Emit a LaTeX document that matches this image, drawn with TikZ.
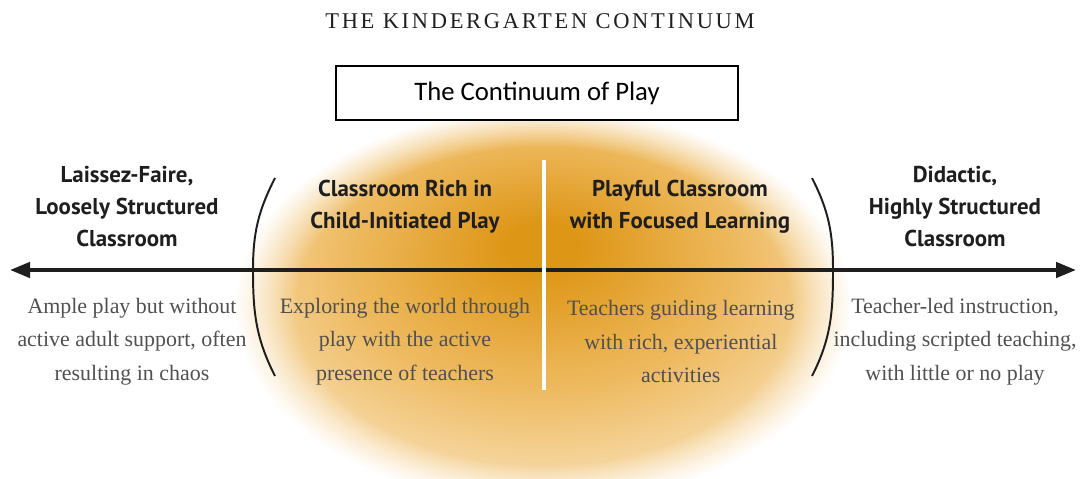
\documentclass[tikz,border=0pt]{standalone}
\usepackage{fontspec}
\usepackage{tikz}
\usetikzlibrary{arrows.meta}
\usetikzlibrary{fadings}
\usetikzlibrary{positioning}
\usepackage{xcolor}

\setmainfont{Liberation Serif}
\newfontfamily\boxfont{Carlito}
\newfontfamily\headfont{PT Sans}

\definecolor{gcore}{RGB}{222,150,22}
\definecolor{gmid}{RGB}{238,186,96}
\definecolor{gedge}{RGB}{248,224,182}
\definecolor{bodygray}{RGB}{80,80,80}
\definecolor{headdark}{RGB}{30,30,30}

\pgfdeclareradialshading{glow}{\pgfpoint{0bp}{8bp}}{color(0bp)=(gcore); color(3bp)=(gcore); color(16bp)=(gmid); color(28bp)=(gedge); color(50bp)=(gedge)}

\begin{document}
\begin{tikzpicture}[
    heading/.style={align=center, text=headdark, font=\headfont\bfseries\fontsize{16.3}{22.7}\selectfont},
    body/.style={align=center, text=bodygray, font=\fontsize{15.6}{23.7}\selectfont},
    paren/.style={line width=1.4pt, headdark}
    ]

\useasboundingbox (0,0) rectangle (27,11.95);

\shade[shading=glow, path fading=circle with fuzzy edge 20 percent] (13.575,4.3) ellipse [x radius=7.7, y radius=4.95];

\node (title) at (13.5,11.42) {\addfontfeature{LetterSpace=12}\fontsize{16}{18}\selectfont\color{black!88}THE KINDERGARTEN CONTINUUM};

\node[draw, line width=1.4pt, fill=white, minimum width=10.05cm, minimum height=1.35cm] (cplay) at (13.425,9.625) {\boxfont\fontsize{19}{21}\selectfont The Continuum of Play};

% the axis
\coordinate (westend) at (0.25,5.2);
\coordinate (eastend) at (26.9,5.2);
\draw[line width=2.8pt, headdark, {Triangle[length=0.5cm,width=0.38cm]}-{Triangle[length=0.5cm,width=0.38cm]}] (westend)--(eastend);

% brackets round the middle
\coordinate (ltop) at (6.875,7.5);
\coordinate (lmid) at (6.325,5.2);
\coordinate (lbot) at (6.875,2.55);
\coordinate (rtop) at (20.3,7.5);
\coordinate (rmid) at (20.825,5.2);
\coordinate (rbot) at (20.3,2.55);
\draw[paren] (ltop) to[out=243,in=90] (lmid) to[out=270,in=117] (lbot);
\draw[paren] (rtop) to[out=297,in=90] (rmid) to[out=270,in=63] (rbot);

\coordinate (splittop) at (13.6,7.95);
\coordinate (splitbot) at (13.6,2.2);
\draw[white, line width=2.2pt] (splittop)--(splitbot);

\node[heading] (lhead) at (3.175,6.78) {Laissez-Faire,\\Loosely Structured\\Classroom};
\node[heading] (clhead) at (10.125,6.78) {Classroom Rich in\\Child-Initiated Play};
\node[heading] (crhead) at (17.0,6.78) {Playful Classroom\\with Focused Learning};
\node[heading] (rhead) at (23.875,6.78) {Didactic,\\Highly Structured\\Classroom};

\node[body] (ltext) at (3.3,3.41) {Ample play but without\\active adult support, often\\resulting in chaos};
\node[body] (cltext) at (10.125,3.41) {Exploring the world through\\play with the active\\presence of teachers};
\node[body] (crtext) at (17.02,3.41) {Teachers guiding learning\\with rich, experiential\\activities};
\node[body] (rtext) at (23.875,3.41) {Teacher-led instruction,\\including scripted teaching,\\with little or no play};

    \end{tikzpicture}
\end{document}
